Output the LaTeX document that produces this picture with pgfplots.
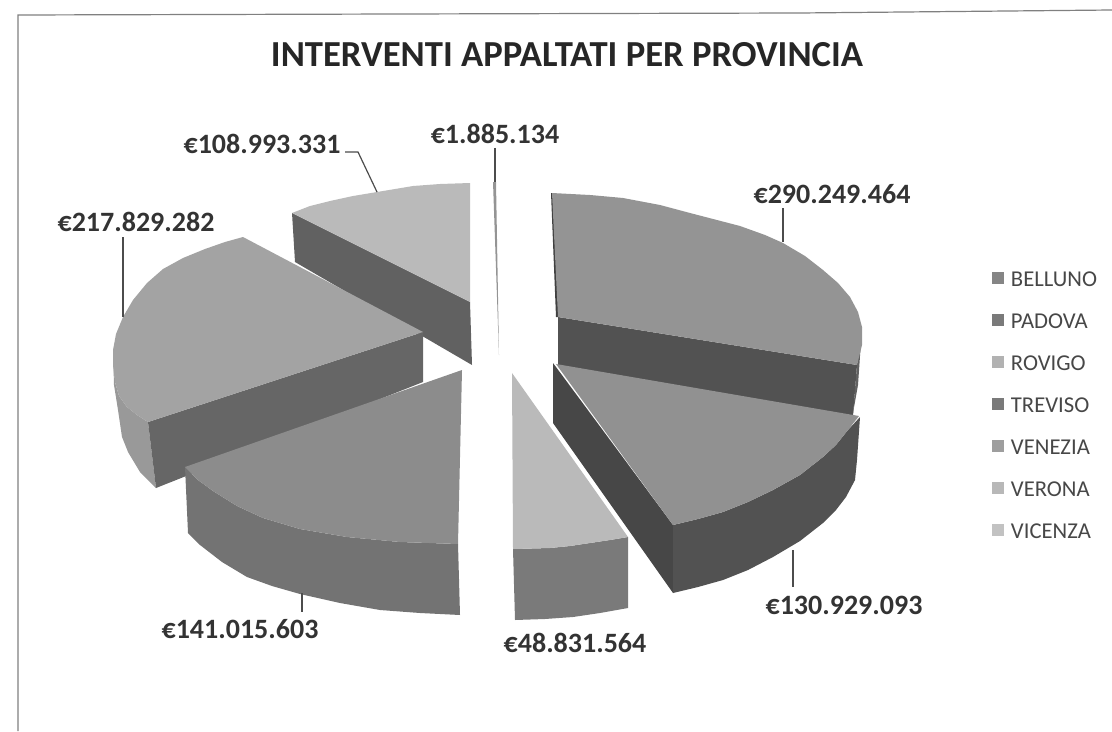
\documentclass[border=0pt]{standalone}
\usepackage{fontspec}
\setmainfont{Carlito}
\usepackage{pgfplots}
\pgfplotsset{compat=1.18}
\begin{document}
\begin{tikzpicture}
\begin{axis}[
  scale only axis, width=834pt, height=548.25pt,
  xmin=0, xmax=1112, ymin=0, ymax=731, y dir=reverse,
  hide axis, clip=false,
  legend cell align=left,
  legend image code/.code={\path[#1] (0pt,-4.5pt) rectangle (9pt,4.5pt);},
  legend style={at={(axis cs:992,270)}, anchor=north west, draw=none, fill=none,
    font=\fontsize{17pt}{18pt}\selectfont\color{black!72},
    row sep=19.5pt, inner sep=0pt,
    /tikz/every odd column/.append style={column sep=5pt},
    nodes={inner sep=0pt, outer sep=0pt, text depth=0pt, text height=12pt}},
]
\path[use as bounding box] (axis cs:0,0) rectangle (axis cs:1112,731);
% frame of the chart area
\addplot[forget plot, black!50, line width=0.9pt] coordinates {(18,731)(18,15)(400,14)(800,13)(1112,10)};

% sides: Vicenza
\addplot[forget plot, fill=black!62, draw=none] coordinates {(292,213)(470,302)(472,365)(295,262)};
% sides: Verona
\addplot[forget plot, fill=black!40, draw=none] coordinates {(113,350)(114,385)(118,410)(122,437)(128,452)(140,472)(156,488)(148,422)(137,415)(127,407)(119,396)(115,382)};
\addplot[forget plot, fill=black!60, draw=none] coordinates {(148,422)(423,332)(423,382)(156,488)};
% sides: Venezia
\addplot[forget plot, fill=black!55, draw=none] coordinates {(185,467)(198,480)(213,491)(237,506)(263,518)(300,529)(347,537)(400,542)(458,544)(460,615)(420,613)(380,610)(340,603)(300,594)(272,586)(247,577)(222,562)(200,545)(188,533)};
% sides: Padova
\addplot[forget plot, fill=black!68, draw=none] coordinates {(558,317)(857,365)(853,416)(558,365)};
\addplot[forget plot, fill=black!62, draw=none] coordinates {(862,327)(857,365)(853,413)(858,385)};
\addplot[forget plot, fill=black!75, draw=none] coordinates {(551,193)(553,193)(559,317)(556,317)};
% sides: Rovigo
\addplot[forget plot, fill=black!72, draw=none] coordinates {(553,363)(673,525)(673,593)(553,423)};
\addplot[forget plot, fill=black!68, draw=none] coordinates {(673,525)(698,519)(723,512)(748,502)(773,490)(800,475)(823,457)(836,445)(848,430)(860,417)(857,460)(855,480)(846,497)(836,510)(823,523)(800,541)(773,557)(748,570)(723,580)(698,587)(673,593)};
% sides: Treviso
\addplot[forget plot, fill=black!52, draw=none] coordinates {(513,549)(550,548)(570,546)(590,543)(610,540)(628,537)(628,608)(600,613)(573,617)(545,619)(515,620)};

% top faces
\addplot[forget plot, fill=black!42, draw=none] coordinates {(493,182)(496,182)(499,355)};
\addplot[forget plot, fill=black!42, draw=none] coordinates {(552,193)(590,195)(623,198)(660,205)(690,213)(740,226)(765,235)(783,243)(805,256)(823,270)(838,283)(850,297)(858,312)(862,327)(862,345)(857,365)(558,317)};
\addplot[forget plot, fill=black!43, draw=none] coordinates {(556,364)(859,416)(848,430)(836,445)(823,457)(800,475)(773,490)(748,502)(723,512)(698,519)(673,525)};
\addplot[forget plot, fill=black!27, draw=none] coordinates {(512,373)(628,537)(610,540)(590,543)(570,546)(550,548)(513,549)};
\addplot[forget plot, fill=black!45, draw=none] coordinates {(462,370)(185,467)(198,480)(213,491)(237,506)(263,518)(300,529)(347,537)(400,542)(458,544)};
\addplot[forget plot, fill=black!36, draw=none] coordinates {(243,237)(423,332)(148,422)(137,415)(127,407)(119,396)(115,382)(113,365)(113,350)(116,334)(123,317)(133,300)(147,283)(163,269)(183,258)(205,249)(225,242)};
\addplot[forget plot, fill=black!27, draw=none] coordinates {(470,183)(470,302)(292,213)(310,206)(330,201)(353,196)(377,192)(413,186)(440,184)};

% legend
\addlegendimage{fill=black!48, draw=none}
\addlegendentry{BELLUNO}
\addlegendimage{fill=black!52, draw=none}
\addlegendentry{PADOVA}
\addlegendimage{fill=black!30, draw=none}
\addlegendentry{ROVIGO}
\addlegendimage{fill=black!52, draw=none}
\addlegendentry{TREVISO}
\addlegendimage{fill=black!38, draw=none}
\addlegendentry{VENEZIA}
\addlegendimage{fill=black!28, draw=none}
\addlegendentry{VERONA}
\addlegendimage{fill=black!24, draw=none}
\addlegendentry{VICENZA}

% leader lines
\addplot[forget plot, black!70, line width=0.9pt] coordinates {(345,152)(358,152)(377,192)};
\addplot[forget plot, black!70, line width=0.9pt] coordinates {(123,237)(123,317)};
\addplot[forget plot, black!70, line width=0.9pt] coordinates {(302,593)(302,612)};
\addplot[forget plot, black!70, line width=0.9pt] coordinates {(793,550)(793,587)};
\addplot[forget plot, black!70, line width=0.9pt] coordinates {(783,208)(783,242)};
\addplot[forget plot, black!70, line width=0.9pt] coordinates {(495,148)(495,182)};

% title and value labels
\node[font=\fontsize{27.5pt}{30pt}\selectfont\bfseries, text=black!85] at (axis cs:567,55) {INTERVENTI APPALTATI PER PROVINCIA};
\node[font=\fontsize{21pt}{24pt}\selectfont\bfseries, text=black!80] at (axis cs:262,144) {€108.993.331};
\node[font=\fontsize{21pt}{24pt}\selectfont\bfseries, text=black!80] at (axis cs:495,134) {€1.885.134};
\node[font=\fontsize{21pt}{24pt}\selectfont\bfseries, text=black!80] at (axis cs:832,194) {€290.249.464};
\node[font=\fontsize{21pt}{24pt}\selectfont\bfseries, text=black!80] at (axis cs:136,222) {€217.829.282};
\node[font=\fontsize{21pt}{24pt}\selectfont\bfseries, text=black!80] at (axis cs:240,629) {€141.015.603};
\node[font=\fontsize{21pt}{24pt}\selectfont\bfseries, text=black!80] at (axis cs:844,605) {€130.929.093};
\node[font=\fontsize{21pt}{24pt}\selectfont\bfseries, text=black!80] at (axis cs:575,643) {€48.831.564};
\end{axis}
\end{tikzpicture}
\end{document}
